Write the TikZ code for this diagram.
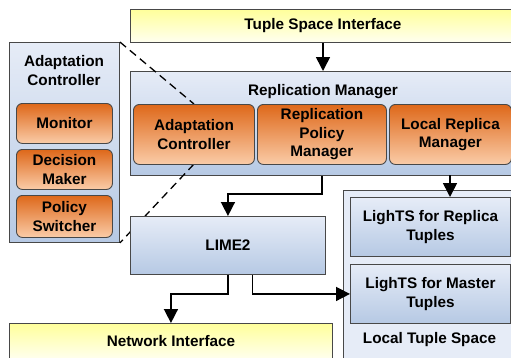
\documentclass[tikz,border=0pt]{standalone}
\usepackage{fontspec}
\setmainfont{Liberation Sans}
\usetikzlibrary{arrows.meta}
\definecolor{bluetop}{RGB}{230,236,247}
\definecolor{bluebot}{RGB}{182,201,228}
\definecolor{orgtop}{RGB}{222,104,26}
\definecolor{orgbot}{RGB}{250,204,168}
\definecolor{yeltop}{RGB}{255,255,155}
\definecolor{yelbot}{RGB}{255,255,240}
\definecolor{edgec}{RGB}{72,72,72}
\tikzset{
  txt/.style={inner sep=0pt, align=center, font=\bfseries\fontsize{15.3}{18.5}\selectfont},
  box/.style={txt, draw=edgec, line width=0.9pt, anchor=north west},
  bluebox/.style={box, top color=bluetop, bottom color=bluebot},
  orgbox/.style={box, rounded corners=6pt, top color=orgtop, bottom color=orgbot},
  yelbox/.style={box, top color=yeltop, bottom color=yelbot},
  arr/.style={line width=1.6pt, -{Triangle[length=14pt,width=14pt]}},
  dashln/.style={line width=1.3pt, dash pattern=on 8pt off 5pt}
}
\begin{document}
\begin{tikzpicture}[x=1pt,y=-1pt]
\useasboundingbox (0,0) rectangle (511,357);
\clip (0,0) rectangle (511,357);
% top interface
\node[yelbox, minimum width=385pt, minimum height=33pt] (tsi) at (130,9) {Tuple Space Interface};
% replication manager panel
\node[bluebox, minimum width=386pt, minimum height=104pt] (rm) at (130,71) {};
\node[txt] (rmt) at (323,91.5) {Replication Manager};
% left adaptation controller panel
\node[bluebox, minimum width=110pt, minimum height=200pt] (acp) at (9,42) {};
\node[txt] (acpt) at (64,70.5) {Adaptation\\Controller};
\node[orgbox, minimum width=96pt, minimum height=40pt] (mon) at (16,103) {Monitor};
\node[orgbox, minimum width=96pt, minimum height=40pt] (dm) at (16,149) {Decision\\Maker};
\node[orgbox, minimum width=96pt, minimum height=42pt] (ps) at (16,195) {Policy\\Switcher};
% dashed zoom lines
\draw[dashln] (acp.north east) -- (194,104) coordinate (acit);
\draw[dashln] (194,164) coordinate (acib) -- (acp.south east);
% inner components
\node[orgbox, minimum width=121pt, minimum height=60pt] (aci) at (133,104) {Adaptation\\Controller};
\node[orgbox, minimum width=129pt, minimum height=60pt] (rpm) at (257,104) {Replication\\Policy\\Manager};
\node[orgbox, minimum width=122pt, minimum height=60pt] (lrm) at (389,104) {Local Replica\\Manager};
% LIME2
\node[bluebox, minimum width=195pt, minimum height=58pt] (lime) at (130,216) {LIME2};
% local tuple space
\node[draw=edgec, line width=0.9pt, fill=bluetop, anchor=north west, inner sep=0pt, minimum width=180pt, minimum height=200pt] (lts) at (343,190) {};
\node[txt] (ltst) at (429.5,340) {Local Tuple Space};
\node[bluebox, minimum width=160pt, minimum height=59pt] (lr) at (350,197) {LighTS for Replica\\Tuples};
\node[bluebox, minimum width=160pt, minimum height=59pt] (lm) at (350,264) {LighTS for Master\\Tuples};
% network interface
\node[yelbox, minimum width=323pt, minimum height=36pt] (ni) at (9,323) {Network Interface};
% connectors
\draw[arr] (tsi.south -| rmt) -- (rm.north -| rmt);
\draw[arr] (rpm.south |- rm.south) -- ++(0,18) -| (lime.north);
\draw[arr] (450,175) coordinate (lrmb) -- (lrmb |- lr.north);
\draw[arr] (lime.south) -- ++(0,19) -| (ni.north);
\draw[arr] ([xshift=24.5pt]lime.south) |- (lm.west);
\end{tikzpicture}
\end{document}
